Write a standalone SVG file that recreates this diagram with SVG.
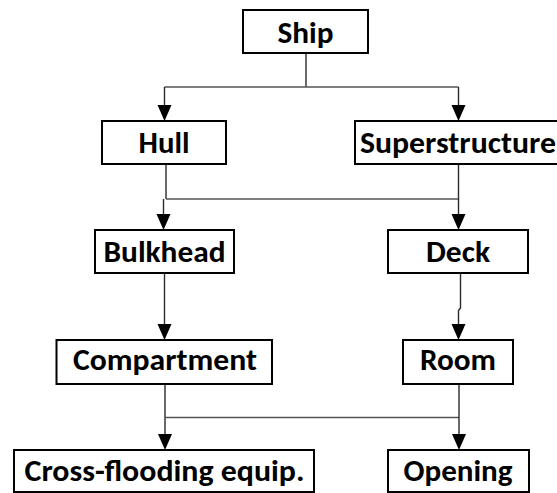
<svg xmlns="http://www.w3.org/2000/svg" width="557" height="493" viewBox="0 0 557 493">
  <style>
    .box { fill: #ffffff; stroke: #000000; stroke-width: 2; }
    .lbl { font-family: "Carlito", "Lato", "Liberation Sans", sans-serif; font-weight: bold; font-size: 30px; fill: #000000; text-anchor: middle; }
    .wire { fill: none; stroke: #2a2a2a; stroke-width: 1.4; }
    .tie { fill: none; stroke: #555555; stroke-width: 1.3; }
    .head { fill: #000000; }
  </style>
  <rect width="557" height="493" fill="#ffffff"/>

  <g id="connectors">
    <!-- Ship to Hull / Superstructure -->
    <path class="wire" d="M306,53 V87"/>
    <path class="tie" d="M164.5,87 H458.5"/>
    <path class="wire" d="M164.5,87 V105"/>
    <path class="wire" d="M458.5,87 V105"/>
    <path class="head" d="M157.5,105 H171.5 L164.5,121 Z"/>
    <path class="head" d="M451.5,105 H465.5 L458.5,121 Z"/>
    <!-- Hull / Superstructure to Bulkhead / Deck -->
    <path class="wire" d="M166,164 V199" stroke-width="2"/>
    <path class="tie" d="M166,199 H458.5"/>
    <path class="wire" d="M458.5,164 V214"/>
    <path class="wire" d="M163.5,199 V214"/>
    <path class="head" d="M156.5,214 H170.5 L163.5,230 Z"/>
    <path class="head" d="M451.5,214 H465.5 L458.5,230 Z"/>
    <!-- Bulkhead to Compartment -->
    <path class="wire" d="M164.5,273 V324"/>
    <path class="head" d="M157.5,324 H171.5 L164.5,340 Z"/>
    <!-- Deck to Room -->
    <path class="wire" d="M460.5,273 V308 L458.5,310.5 V324"/>
    <path class="head" d="M451.5,324 H465.5 L458.5,340 Z"/>
    <!-- Compartment / Room to Cross-flooding equip. / Opening -->
    <path class="wire" d="M165,384 V434"/>
    <path class="tie" d="M165,417.5 H459"/>
    <path class="wire" d="M459,384 V434"/>
    <path class="head" d="M158,434 H172 L165,450 Z"/>
    <path class="head" d="M452,434 H466 L459,450 Z"/>
  </g>

  <g id="ship">
    <rect class="box" x="243" y="10" width="125" height="43"/>
    <text class="lbl" x="305.5" y="43" textLength="56" lengthAdjust="spacingAndGlyphs">Ship</text>
  </g>
  <g id="hull">
    <rect class="box" x="102" y="121" width="124" height="43"/>
    <text class="lbl" x="164" y="153" textLength="51" lengthAdjust="spacingAndGlyphs">Hull</text>
  </g>
  <g id="superstructure">
    <rect class="box" x="355" y="121" width="206" height="43"/>
    <text class="lbl" x="458" y="153" textLength="196" lengthAdjust="spacingAndGlyphs">Superstructure</text>
  </g>
  <g id="bulkhead">
    <rect class="box" x="95" y="230" width="139" height="43"/>
    <text class="lbl" x="164.5" y="262" textLength="122" lengthAdjust="spacingAndGlyphs">Bulkhead</text>
  </g>
  <g id="deck">
    <rect class="box" x="388" y="230" width="140" height="43"/>
    <text class="lbl" x="458" y="262" textLength="64" lengthAdjust="spacingAndGlyphs">Deck</text>
  </g>
  <g id="compartment">
    <rect class="box" x="56.5" y="340" width="215.5" height="44"/>
    <text class="lbl" x="165" y="370" textLength="184" lengthAdjust="spacingAndGlyphs">Compartment</text>
  </g>
  <g id="room">
    <rect class="box" x="403" y="340" width="110" height="44"/>
    <text class="lbl" x="458" y="370" textLength="76" lengthAdjust="spacingAndGlyphs">Room</text>
  </g>
  <g id="cross-flooding">
    <rect class="box" x="14" y="450" width="300" height="42"/>
    <text class="lbl" x="164.5" y="481" textLength="280" lengthAdjust="spacingAndGlyphs">Cross-flooding equip.</text>
  </g>
  <g id="opening">
    <rect class="box" x="388" y="450" width="141" height="42"/>
    <text class="lbl" x="458" y="481" textLength="109" lengthAdjust="spacingAndGlyphs">Opening</text>
  </g>
</svg>
